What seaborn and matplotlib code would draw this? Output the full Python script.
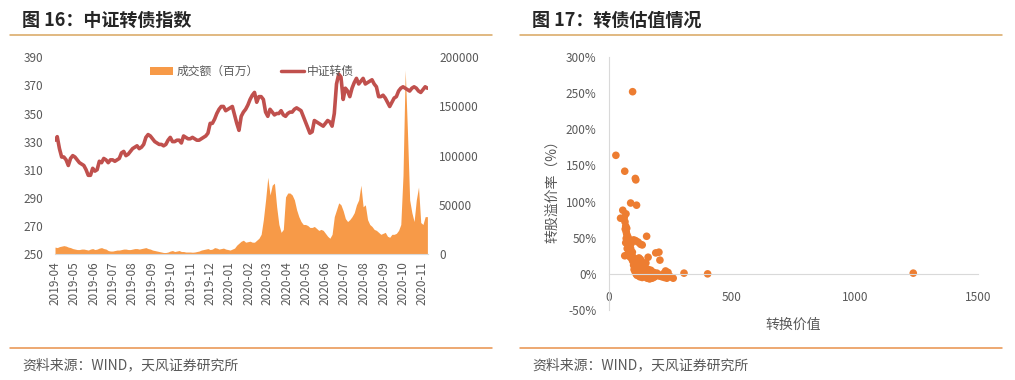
import pandas as pd
import numpy as np
import seaborn as sns
import matplotlib.pyplot as plt
import matplotlib.dates as mdates
from matplotlib.lines import Line2D
from matplotlib.patches import Patch

sns.set_style('white')
plt.rcParams['font.family'] = ['Noto Sans CJK SC', 'DejaVu Sans']
plt.rcParams['axes.unicode_minus'] = False

# --- 图16 data: twice-weekly samples, 2019-04-01 .. 2020-11-09
sample_dates = pd.date_range('2019-04-01', periods=169, freq='84h')
index_values = [
    331, 333.5, 325, 319, 319, 317, 313, 318, 320, 319,
    317, 315, 314, 313, 310, 306, 306, 311, 309, 310,
    316, 315, 318, 317, 315, 317, 317, 316, 317, 318,
    322, 323, 320, 321, 323, 325, 326, 327, 325, 326,
    328, 333, 335, 334, 332, 330, 329, 328, 328, 327,
    328, 331, 333, 330, 330, 331, 331, 329, 334, 333,
    332, 332, 333, 332, 331, 331, 332, 333, 334, 336,
    343, 343, 346, 350, 353, 355, 355, 352, 353, 354,
    355, 349, 343, 338, 348, 351, 353, 356, 360, 363,
    365, 358, 362, 362, 360, 351, 348, 353, 351, 349,
    350, 350, 352, 349, 348, 350, 351, 351, 353, 354,
    353, 352, 348, 344, 340, 336, 337, 345, 344, 343,
    342, 341, 343, 345, 344, 341, 350, 371, 378, 376,
    360, 368, 366, 362, 368, 372, 375, 371, 373, 375,
    371, 372, 373, 374, 371, 369, 362, 362, 363, 361,
    358, 355, 358, 361, 362, 366, 368, 369, 368, 367,
    366, 368, 369, 368, 366, 365, 367, 369, 368,
]
volume_values = [
    7000, 6500, 7500, 8000, 8500, 8000, 7000, 6500, 5500, 5000,
    4500, 4500, 5000, 5000, 4500, 4000, 5000, 5500, 4500, 5000,
    6000, 6500, 5500, 5000, 3500, 3000, 3000, 3500, 4000, 4000,
    4500, 5000, 5000, 4500, 4500, 5000, 5500, 5500, 5000, 5500,
    6000, 6500, 5500, 5000, 4000, 3500, 3000, 2500, 2000, 1500,
    1500, 2000, 3000, 3500, 2500, 3000, 3500, 2500, 2500, 2000,
    2000, 2000, 1800, 2000, 2500, 3000, 4000, 4500, 5000, 5500,
    4500, 5000, 6500, 6000, 5000, 5500, 6000, 5000, 4500, 4000,
    5000, 6000, 9000, 11000, 13000, 14000, 12000, 12500, 13000, 12000,
    12000, 14000, 16000, 20000, 35000, 55000, 78000, 60000, 70000, 72000,
    48000, 30000, 22000, 25000, 58000, 62000, 62000, 60000, 55000, 45000,
    38000, 33000, 30000, 30000, 29000, 27000, 27000, 28000, 26000, 24000,
    25000, 24000, 21000, 18000, 16000, 20000, 38000, 45000, 52000, 50000,
    44000, 36000, 33000, 35000, 38000, 42000, 50000, 55000, 70000, 48000,
    50000, 35000, 30000, 28000, 25000, 24000, 22000, 20000, 21000, 22000,
    18000, 17000, 20000, 20000, 21000, 24000, 30000, 80000, 187000, 125000,
    55000, 42000, 33000, 55000, 68000, 32000, 30000, 38000, 38000,
]

# --- 图17 data: conversion value vs conversion premium (%)
conv_value = [
    28, 64, 96, 107, 109, 88, 112, 56, 69, 47, 153, 159, 190, 203, 207,
    230, 261, 305, 401, 1237, 64,
    62, 65, 68, 66, 70, 72, 75, 70, 73, 76, 68, 78, 80, 74, 82, 85, 79, 88, 84, 90,
    100, 108, 118, 128, 135, 95, 90,
    92, 95, 98, 100, 103, 106, 110, 112, 96, 105, 115, 120, 125, 118, 130,
    135, 140, 145, 150, 100, 108, 122, 128, 133, 138, 142,
    102, 106, 110, 114, 118, 122, 126, 130, 134, 138, 142, 146, 150, 154,
    158, 162, 166, 170, 174, 178, 182, 186, 190, 195, 200, 160, 170, 145,
    155, 165, 175, 135, 125, 180, 205, 215, 225, 220, 240, 235, 250,
    112, 116, 120, 124, 128, 132, 136, 140, 144, 148, 152, 156, 160,
    95, 88, 85, 82, 78, 72, 150,
]
premium = [
    164, 142, 252, 132, 130, 98, 95, 88, 83, 77, 52, 23, 29, 30, 19,
    4, -6, 1, 0, 1, 25,
    78, 72, 66, 62, 58, 55, 52, 49, 46, 44, 43, 40, 37, 35, 33, 31, 29, 28, 24, 22,
    47, 46, 44, 41, 40, 45, 42,
    26, 24, 22, 20, 19, 21, 18, 16, 18, 14, 13, 15, 12, 10, 11,
    9, 8, 10, 7, 12, 9, 22, 20, 17, 14, 12,
    6, 3, 0, -2, 5, 2, -1, 4, 1, -3, 3, 0, -4, 2,
    -2, 1, -5, -3, 0, -2, 2, -4, -1, 1, -2, 6, 5, 6,
    -6, -7, -6, -5, -4, -5, -3, -4, -5, 0, 2, -6, -4,
    8, 6, 3, 7, 5, 2, 6, 1, -1, 4, 1, -3, -1,
    30, 35, 38, 45, 50, 63, 15,
]

RED = '#C0504D'
AREA = '#F79A48'
DOT = '#ED7D31'
TXT = '#595959'
GRID = '#D9D9D9'

fig = plt.figure(figsize=(10.15, 3.8), dpi=100)

# titles, rules and sources
for x0, x1, title in [(10, 492, '图 16：中证转债指数'), (520, 1002, '图 17：转债估值情况')]:
    fig.text((x0 + 12) / 1015, 0.947, title, fontsize=13, fontweight='bold',
             color='#262626', va='center', ha='left')
    fig.add_artist(Line2D([x0 / 1015, x1 / 1015], [0.909, 0.909],
                          transform=fig.transFigure, color='#D9A55F', lw=1.1))
    fig.add_artist(Line2D([x0 / 1015, x1 / 1015], [0.0834, 0.0834],
                          transform=fig.transFigure, color='#E8914A', lw=1.1))
    fig.text((x0 + 12) / 1015, 0.039, '资料来源：WIND，天风证券研究所',
             fontsize=10, color=TXT, va='center', ha='left')

# --- left chart
df = pd.DataFrame({'date': sample_dates, 'index': index_values, 'volume': volume_values})

ax = fig.add_axes([0.0542, 0.3316, 0.3675, 0.5176])
ax2 = ax.twinx()
ax2.fill_between(df['date'], df['volume'], color=AREA, linewidth=0)
ax2.set_ylim(0, 200000)
ax2.set_yticks(range(0, 200001, 50000))

sns.lineplot(data=df, x='date', y='index', ax=ax, color=RED, linewidth=2.6)
ax.set_zorder(ax2.get_zorder() + 1)
ax.patch.set_visible(False)

ax.set_ylim(250, 390)
ax.set_yticks(range(250, 391, 20))
ax.set_xlim(pd.Timestamp('2019-04-01'), pd.Timestamp('2020-11-10'))
ax.xaxis.set_major_locator(mdates.MonthLocator())
ax.xaxis.set_major_formatter(mdates.DateFormatter('%Y-%m'))
ax.set_xlabel('')
ax.set_ylabel('')

for a in (ax, ax2):
    for s in a.spines.values():
        s.set_visible(False)
    a.tick_params(length=0, labelsize=8.5, labelcolor=TXT)
ax.tick_params(axis='y', pad=8.5)
ax2.tick_params(axis='y', pad=8)
ax.tick_params(axis='x', pad=5, labelrotation=90)
ax2.spines['bottom'].set_visible(True)
ax2.spines['bottom'].set_color(GRID)

handles = [Patch(color=AREA, linewidth=0), Line2D([], [], color=RED, lw=2.5)]
ax.legend(handles, ['成交额（百万）', '中证转债'], loc='center',
          bbox_to_anchor=(0.528, 0.927), ncol=2, frameon=False, fontsize=8.5,
          handlelength=2.0, handleheight=0.6, handletextpad=0.25,
          columnspacing=1.9, labelcolor=TXT)

# --- right chart
ax3 = fig.add_axes([0.6, 0.1842, 0.3635, 0.6658])
sns.scatterplot(x=conv_value, y=premium, ax=ax3, color=DOT, s=30,
                edgecolor='none', linewidth=0, clip_on=False)
ax3.set_xlim(0, 1500)
ax3.set_ylim(-50, 300)
ax3.set_xticks([0, 500, 1000, 1500])
ax3.set_yticks(range(-50, 301, 50))
ax3.set_yticklabels([f'{v}%' for v in range(-50, 301, 50)])
ax3.spines['bottom'].set_position(('data', 0))
ax3.spines['top'].set_visible(False)
ax3.spines['right'].set_visible(False)
ax3.spines['left'].set_color(GRID)
ax3.spines['bottom'].set_color(GRID)
ax3.tick_params(direction='out', length=3, color=GRID, labelsize=8.5,
                labelcolor=TXT)
ax3.tick_params(axis='x', pad=9)
ax3.tick_params(axis='y', pad=6)
ax3.set_xlabel('转换价值', fontsize=10, color=TXT)
ax3.set_ylabel('转股溢价率（%）', fontsize=10, color=TXT)
ax3.xaxis.set_label_coords(0.499, -0.032)
ax3.yaxis.set_label_coords(-0.133, 0.482)

fig.savefig('out.png', dpi=100)
